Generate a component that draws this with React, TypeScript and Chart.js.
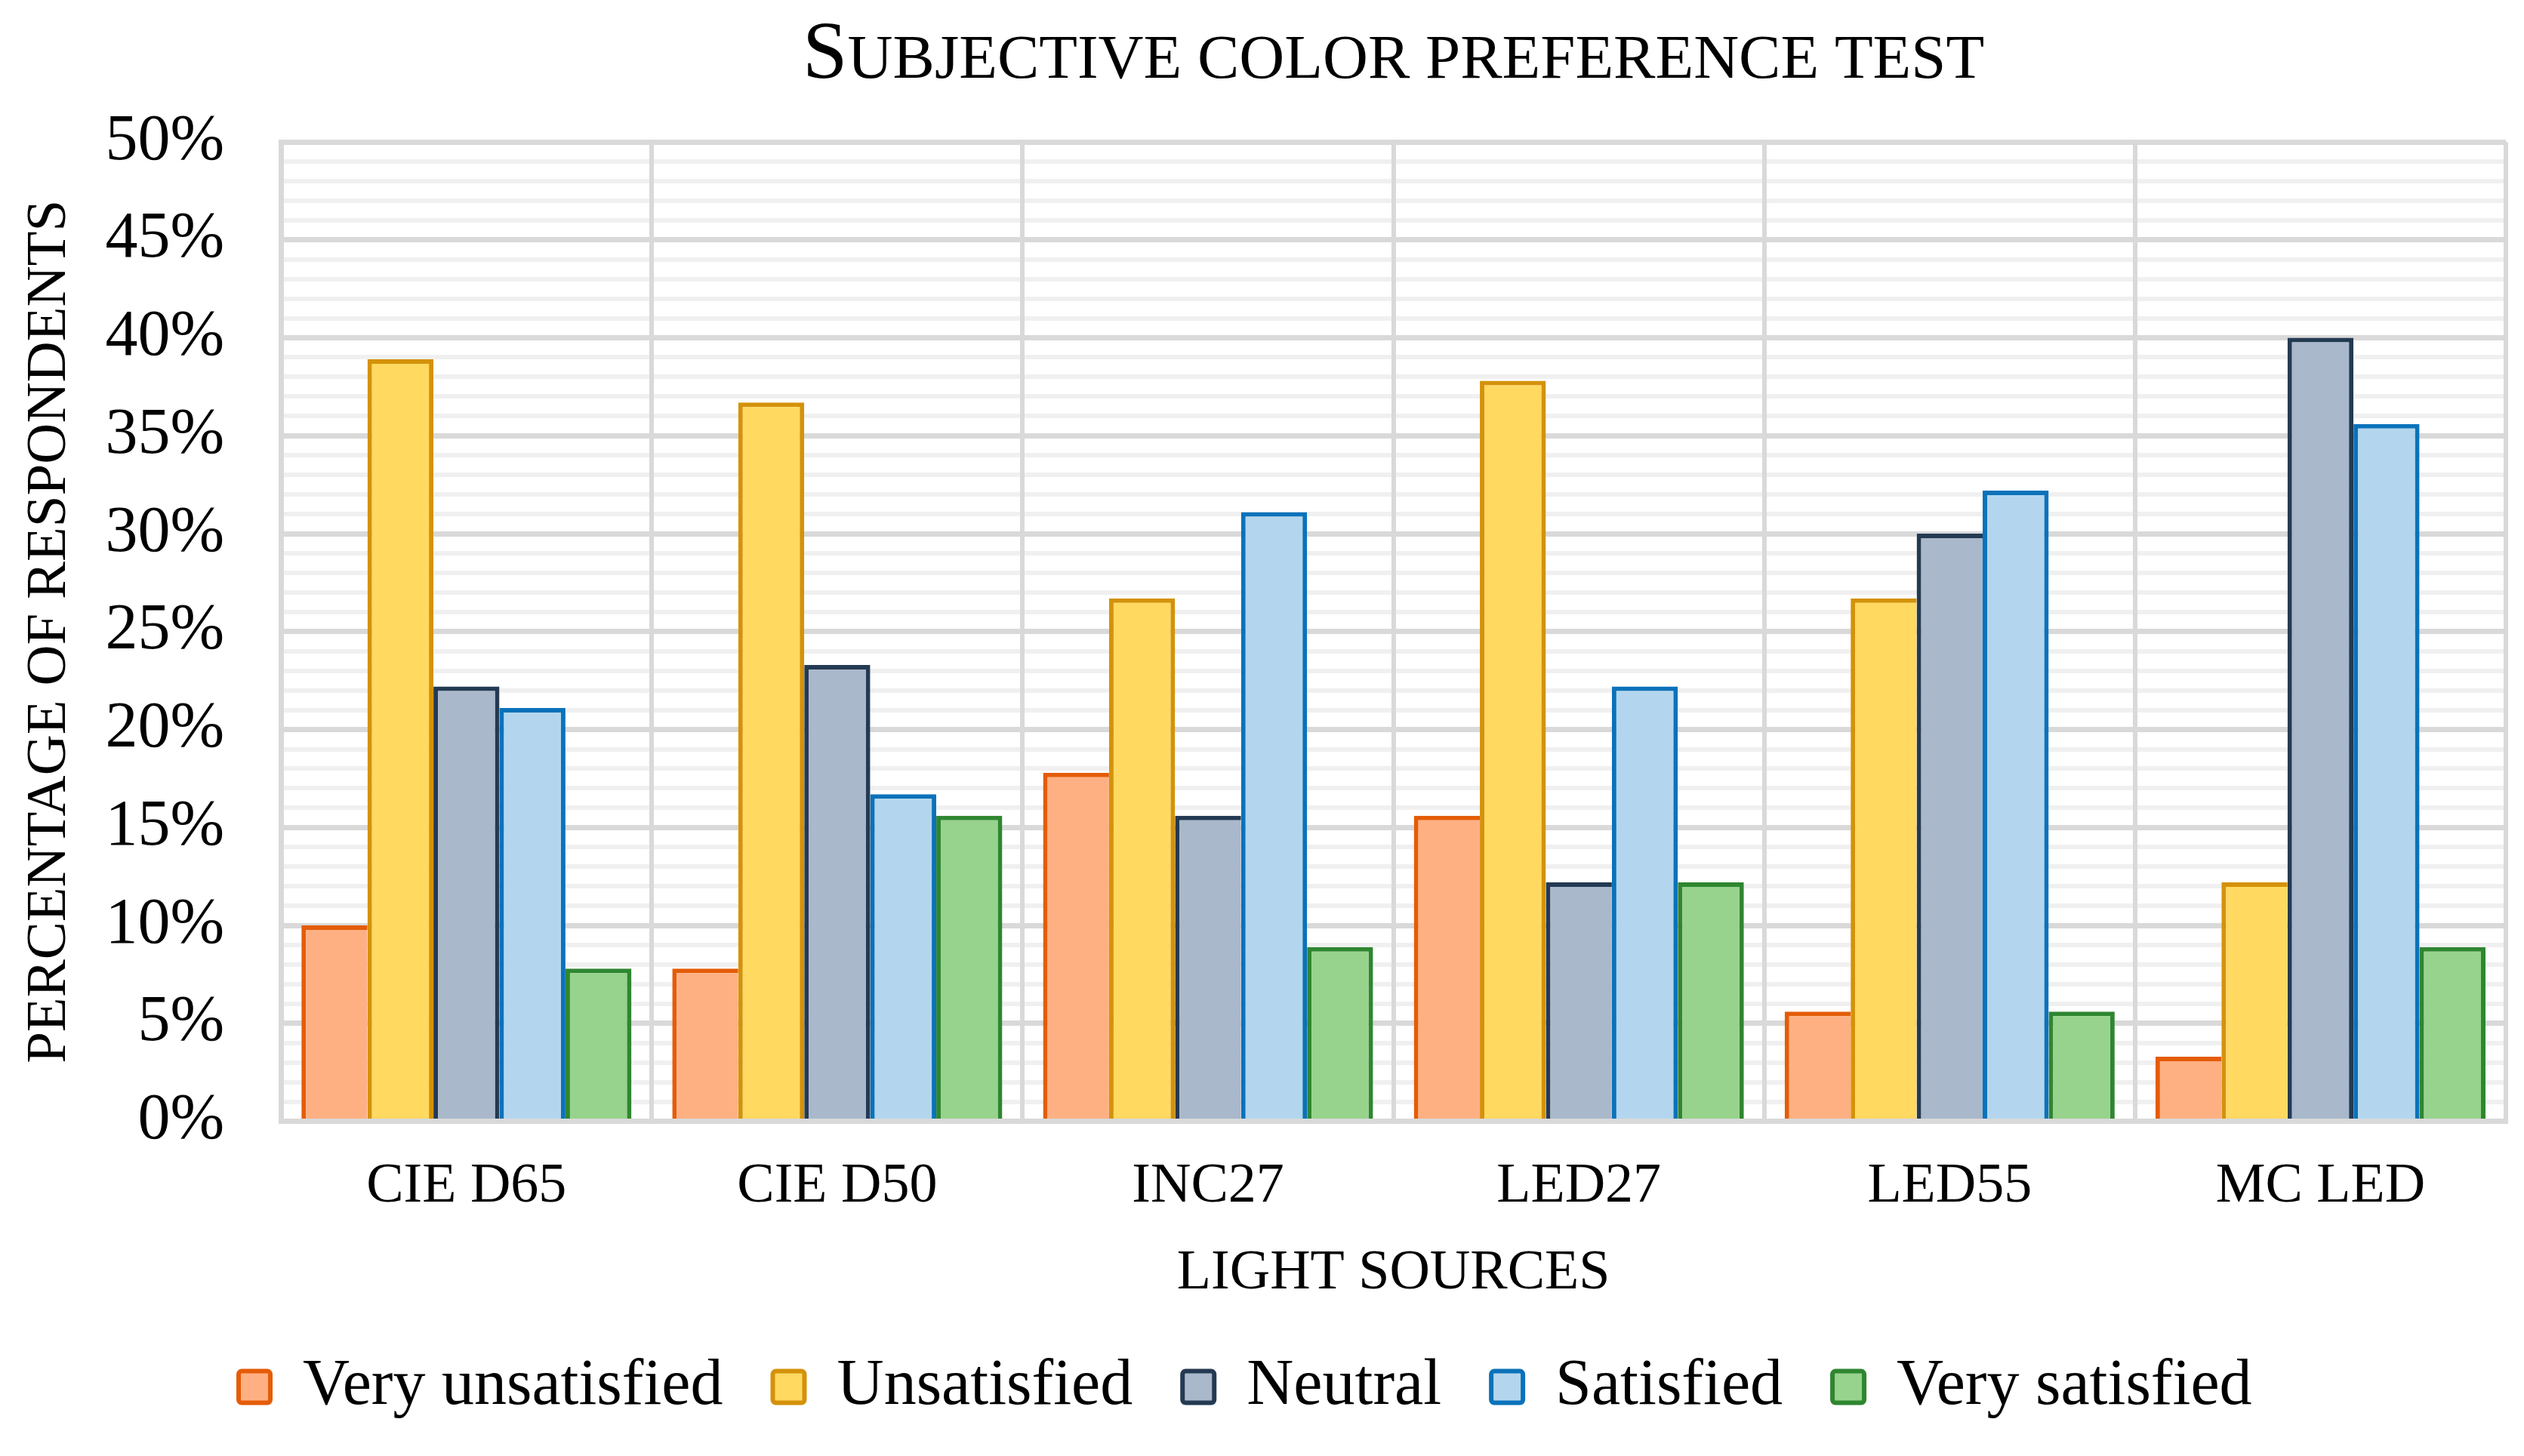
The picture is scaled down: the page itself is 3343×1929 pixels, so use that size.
import React, { useEffect, useRef } from 'react';
import { Chart, registerables } from 'chart.js';

Chart.register(...registerables);

// ---------- data ----------
const chartTitle = 'Subjective color preference test';
const xAxisTitle = 'LIGHT SOURCES';
const yAxisTitle = 'PERCENTAGE OF RESPONDENTS';
const categories = ['CIE D65', 'CIE D50', 'INC27', 'LED27', 'LED55', 'MC LED'];
const seriesNames = ['Very unsatisfied', 'Unsatisfied', 'Neutral', 'Satisfied', 'Very satisfied'];
const veryUnsatisfied = [10.0, 7.8, 17.8, 15.6, 5.6, 3.3];
const unsatisfied = [38.9, 36.7, 26.7, 37.8, 26.7, 12.2];
const neutral = [22.2, 23.3, 15.6, 12.2, 30.0, 40.0];
const satisfied = [21.1, 16.7, 31.1, 22.2, 32.2, 35.6];
const verySatisfied = [7.8, 15.6, 8.9, 12.2, 5.6, 8.9];
const yMin = 0;
const yMax = 50;
const yMajorStep = 5;
const yMinorStep = 1;

// ---------- styles ----------
const FONT = "'Liberation Serif', 'Times New Roman', serif";
const fills = ['#FFB083', '#FFD960', '#A9B8CB', '#B3D6EE', '#97D38C'];
const borders = ['#E45C07', '#D4920A', '#243A52', '#0B72BA', '#2F8630'];
const seriesValues = [veryUnsatisfied, unsatisfied, neutral, satisfied, verySatisfied];
const legendShiftX = -21;

const titlePlugin = {
  id: 'smallCapsTitle',
  afterDraw(chart: any) {
    const { ctx, chartArea } = chart;
    const first = chartTitle.charAt(0).toUpperCase();
    const rest = chartTitle.slice(1).toUpperCase();
    const bigFont = `107px ${FONT}`;
    const smallFont = `83px ${FONT}`;
    ctx.save();
    ctx.fillStyle = '#000';
    ctx.textBaseline = 'alphabetic';
    ctx.textAlign = 'left';
    ctx.font = bigFont;
    const w1 = ctx.measureText(first).width;
    ctx.font = smallFont;
    const w2 = ctx.measureText(rest).width;
    const cx = (chartArea.left + chartArea.right) / 2;
    const x = cx - (w1 + w2) / 2;
    const baseline = 103;
    ctx.font = bigFont;
    ctx.fillText(first, x, baseline);
    ctx.font = smallFont;
    ctx.fillText(rest, x + w1, baseline);
    ctx.restore();
  },
};

const legendShiftPlugin = {
  id: 'legendShift',
  afterLayout(chart: any) {
    if (chart.legend) {
      chart.legend.left += legendShiftX;
      chart.legend.right += legendShiftX;
    }
  },
};

export default function App() {
  const canvasRef = useRef<HTMLCanvasElement | null>(null);

  useEffect(() => {
    if (!canvasRef.current) return;
    const last = seriesValues.length - 1;
    const chart = new Chart(canvasRef.current, {
      type: 'bar',
      data: {
        labels: categories,
        datasets: seriesValues.map((data, i) => ({
          label: seriesNames[i],
          data,
          backgroundColor: fills[i],
          borderColor: borders[i],
          borderWidth: (c: any) => {
            const j = c.dataIndex;
            if (j === undefined || j === null) return 6;
            const next = i < last ? seriesValues[i + 1][j] : -1;
            const right = i === last || next < data[j] ? 6 : 0;
            return { top: 6, left: 6, right, bottom: 0 };
          },
          borderSkipped: 'start',
          categoryPercentage: 0.89,
          barPercentage: 1,
        })),
      },
      options: {
        animation: false,
        responsive: false,
        devicePixelRatio: 1,
        events: [],
        layout: { padding: { top: 188, left: 21.6, right: 24, bottom: 38.4 } },
        plugins: {
          title: { display: false },
          tooltip: { enabled: false },
          legend: {
            position: 'bottom',
            labels: {
              color: '#000',
              font: { family: FONT, size: 86 },
              boxWidth: 42,
              boxHeight: 42,
              padding: 66,
              useBorderRadius: true,
              borderRadius: 4,
              generateLabels: (ch: any) =>
                ch.data.datasets.map((ds: any, i: number) => ({
                  text: ds.label,
                  fillStyle: fills[i],
                  strokeStyle: borders[i],
                  lineWidth: 6,
                  hidden: false,
                  datasetIndex: i,
                  borderRadius: 4,
                  fontColor: '#000',
                })),
            },
          },
        },
        scales: {
          y: {
            min: yMin,
            max: yMax,
            ticks: {
              stepSize: yMinorStep,
              autoSkip: false,
              padding: 75,
              color: '#000',
              font: { family: FONT, size: 86 },
              callback: (v: any) => (Number(v) % yMajorStep === 0 ? `${v}%` : ''),
            },
            grid: {
              z: -2,
              color: (c: any) => (c.tick && c.tick.value % yMajorStep === 0 ? '#d9d9d9' : '#f0f0f0'),
              lineWidth: (c: any) => (c.tick && c.tick.value % yMajorStep === 0 ? 7 : 6),
              drawTicks: false,
            },
            border: { display: true, color: '#d9d9d9', width: 7 },
            title: {
              display: true,
              text: yAxisTitle,
              color: '#000',
              font: { family: FONT, size: 75 },
              padding: { top: 0, bottom: -47 },
            },
          },
          x: {
            ticks: { padding: 43, color: '#000', font: { family: FONT, size: 74 } },
            grid: { z: -1, display: true, offset: true, color: '#d9d9d9', lineWidth: 6, drawTicks: false },
            border: { display: true, color: '#d9d9d9', width: 7 },
            title: {
              display: true,
              text: xAxisTitle,
              color: '#000',
              font: { family: FONT, size: 74 },
              padding: { top: -17.2, bottom: -3.4 },
            },
          },
        },
      },
      plugins: [titlePlugin, legendShiftPlugin],
    } as any);
    return () => chart.destroy();
  }, []);

  return (
    <div style={{ position: 'fixed', left: 0, top: 0, width: 3343, height: 1929, background: '#fff' }}>
      <canvas ref={canvasRef} width={3343} height={1929} style={{ display: 'block' }} />
    </div>
  );
}
